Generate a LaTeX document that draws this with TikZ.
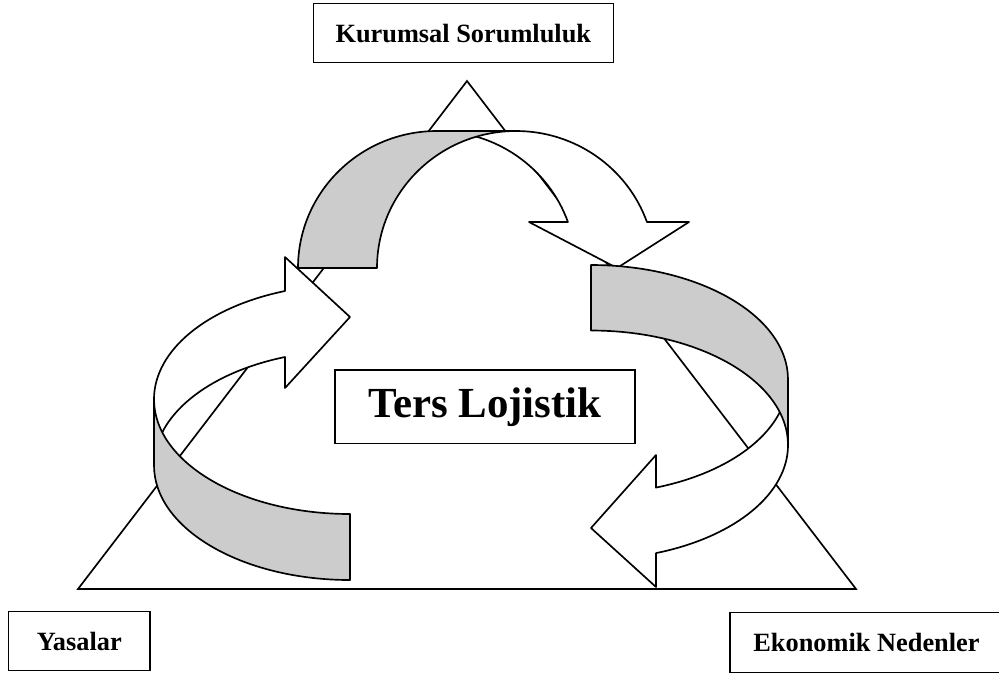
\documentclass[tikz,border=0pt]{standalone}
\usepackage{fontspec}
\setmainfont{Liberation Serif}
\usepackage{xcolor}
\usepackage{tikz}
\definecolor{backshade}{RGB}{204,204,204}
\tikzset{
    boxnode/.style = {align=center, inner sep=0pt, text centered},
    label_box/.style = {boxnode, rectangle, draw=black, line width=0.85pt, font=\fontsize{15}{18}\selectfont\bfseries},
    title_box/.style = {boxnode, rectangle, draw=black, line width=0.85pt, font=\fontsize{24.4}{28}\selectfont\bfseries},
    front_band/.style = {draw=black, fill=white, line width=0.95pt, line join=round},
    back_band/.style = {draw=black, fill=backshade, line width=0.95pt, line join=round},
    frame_line/.style = {draw=black, line width=0.95pt}
}
% band width, height, arc half width, head length, near wing, far wing, tip
\newcommand{\ribbonarrow}[7]{%
    \pgfmathsetmacro{\headang}{asin(#4/#2)}
    \pgfmathsetmacro{\shaftx}{#3*(1+cos(\headang))}
    \draw[front_band] (\shaftx,#4) arc[start angle=\headang, end angle=90, x radius=#3, y radius=#2]
        -- ++(#1,0) arc[start angle=90, end angle=\headang, x radius=#3, y radius=#2]
        -- (#6,#4) -- (#7,0) -- (#5,#4) -- cycle;
    \draw[back_band] (0,0) arc[start angle=180, end angle=90, x radius=#3, y radius=#2]
        -- ++(#1,0) arc[start angle=90, end angle=180, x radius=#3, y radius=#2] -- cycle;
}

\begin{document}
\begin{tikzpicture}[x=0.02cm, y=0.02cm]
    \useasboundingbox (0,0) rectangle (999,-674);

    \coordinate (apex) at (467,-81);
    \coordinate (corner_l) at (78,-589);
    \coordinate (corner_r) at (856,-589);
    \draw[frame_line] (apex) -- (corner_l) -- (corner_r) -- cycle;

    \begin{scope}[shift={(298,-268)}]
        \ribbonarrow{79}{137}{139}{46}{231}{391}{319}
    \end{scope}
    \begin{scope}[shift={(350,-580)}, rotate=90]
        \ribbonarrow{66}{196}{114.75}{65}{192}{323}{263}
    \end{scope}
    \begin{scope}[shift={(591,-265)}, rotate=-90]
        \ribbonarrow{65.5}{197}{114.5}{65}{190}{322}{263}
    \end{scope}

    \node[label_box, minimum width=6cm, minimum height=1.18cm] (kurumsal) at (463.3,-33.2) {Kurumsal Sorumluluk};
    \node[label_box, minimum width=2.83cm, minimum height=1.18cm] (yasalar) at (79.3,-641.2) {Yasalar};
    \node[label_box, minimum width=5.47cm, minimum height=1.2cm] (ekonomik) at (866.5,-642.7) {Ekonomik Nedenler};
    \node[title_box, minimum width=6cm, minimum height=1.47cm] (ters) at (485,-406.7) {Ters Lojistik};
\end{tikzpicture}
\end{document}
